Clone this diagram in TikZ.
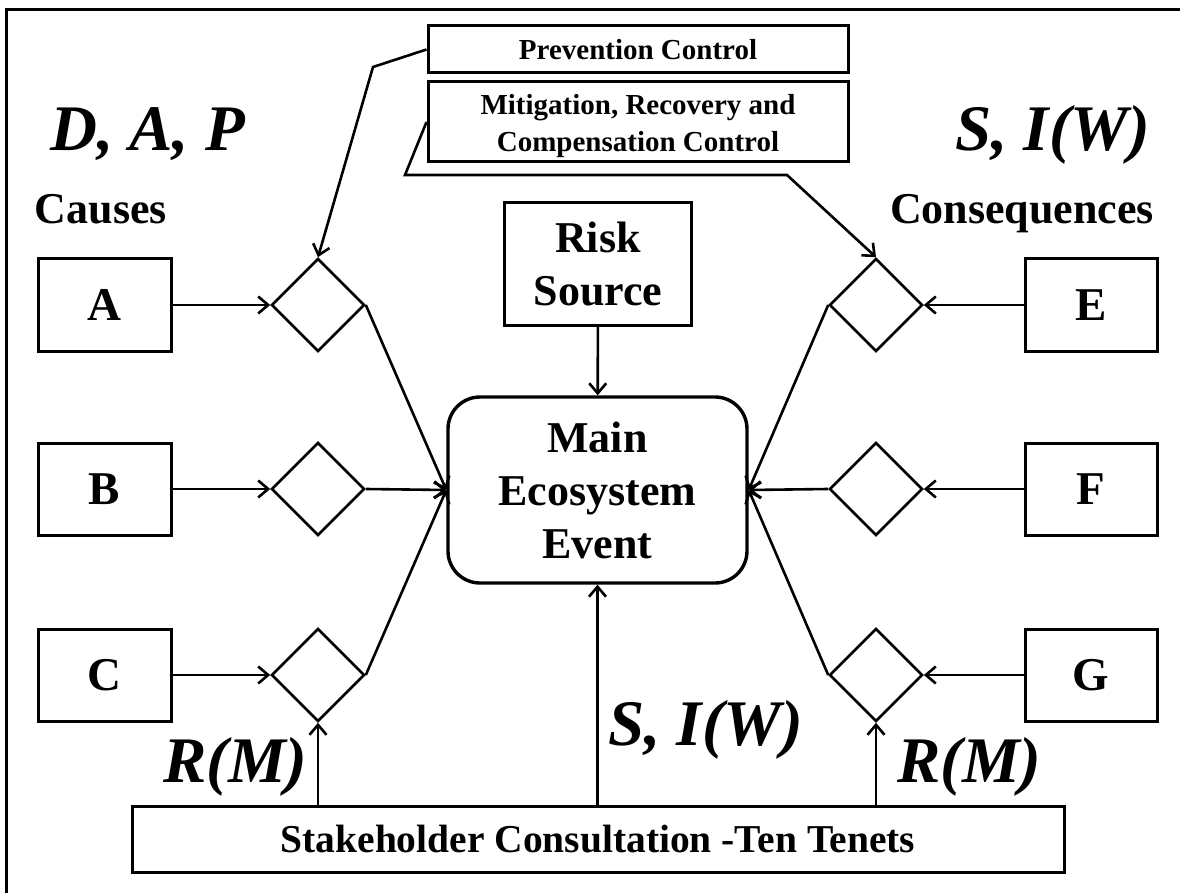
\documentclass[tikz,border=0pt]{standalone}
\usepackage{fontspec}
\setmainfont{Liberation Serif}
\usetikzlibrary{shapes.geometric,arrows.meta}
\begin{document}
\begin{tikzpicture}[x=1pt,y=-1pt,
  lbox/.style={draw,line width=3pt,inner sep=0pt,align=center},
  big/.style={font=\bfseries\fontsize{47}{54}\selectfont},
  mid/.style={font=\bfseries\fontsize{44}{53}\selectfont},
  small/.style={font=\bfseries\fontsize{29}{37}\selectfont},
  ital/.style={font=\bfseries\itshape\fontsize{65}{70}\selectfont,inner sep=0pt},
  dia/.style={draw,diamond,line width=2.6pt,minimum width=93pt,minimum height=93pt,inner sep=0pt},
  conn/.style={line width=2.6pt,-{Straight Barb[length=10pt,width=17pt,line width=2.6pt]}}]
\useasboundingbox (0,0) rectangle (1180,893);
% frame (cropped)
\draw[line width=3pt] (6,893) -- (6,10) -- (1180,10);

% top control boxes
\node[lbox,small,minimum width=420pt,minimum height=47pt] (prev) at (638,49.5) {Prevention Control};
\node[lbox,minimum width=420pt,minimum height=80pt] (mitig) at (638,122) {};
\node[small,align=center,inner sep=0pt] (mitigtxt) at (638,126) {Mitigation, Recovery and\\Compensation Control};

% titles
\node[ital,anchor=base west] (dap) at (50,151) {D, A, P};
\node[mid,inner sep=0pt,anchor=base] (causes) at (101,224) {Causes};
\node[ital,anchor=base west] (siw) at (955,151) {S, I(W)};
\node[mid,inner sep=0pt,anchor=base] (cons) at (1022,224) {Consequences};

% left boxes
\node[lbox,big,minimum width=133pt,minimum height=92pt] (A) at (104.5,305) {A};
\node[lbox,big,minimum width=133pt,minimum height=92pt] (B) at (104.5,489) {B};
\node[lbox,big,minimum width=133pt,minimum height=92pt] (C) at (104.5,675) {C};
% right boxes
\node[lbox,big,minimum width=132pt,minimum height=92pt] (E) at (1091,305) {E};
\node[lbox,big,minimum width=132pt,minimum height=92pt] (F) at (1091,489) {F};
\node[lbox,big,minimum width=132pt,minimum height=92pt] (G) at (1091,675) {G};

% diamonds
\node[dia] (dA) at (318,305) {};
\node[dia] (dB) at (318,489) {};
\node[dia] (dC) at (318,675) {};
\node[dia] (dE) at (876,305) {};
\node[dia] (dF) at (876,489) {};
\node[dia] (dG) at (876,675) {};

% risk source and main event
\node[lbox,mid,minimum width=187pt,minimum height=122pt] (risk) at (598,264) {Risk\\Source};
\node[lbox,mid,line width=3.4pt,rounded corners=32pt,minimum width=299pt,minimum height=186pt] (main) at (597.5,490) {Main\\Ecosystem\\Event};

% stakeholder box
\node[lbox,font=\bfseries\fontsize{39.5}{44}\selectfont,minimum width=932pt,minimum height=66pt] (stake) at (598,839) {Stakeholder Consultation -Ten Tenets};

% bottom labels
\node[ital,anchor=base west] (rml) at (163,782) {R(M)};
\node[ital,anchor=base west] (rmr) at (897,782) {R(M)};
\node[ital,anchor=base west] (siwb) at (608,745) {S, I(W)};

% horizontal arrows box -> diamond
\draw[conn] (A) -- (dA);
\draw[conn] (B) -- (dB);
\draw[conn] (C) -- (dC);
\draw[conn] (E) -- (dE);
\draw[conn] (F) -- (dF);
\draw[conn] (G) -- (dG);

% diamonds -> main
\draw[conn] (dA.east) -- (main.west);
\draw[conn] (dB.east) -- (main.west);
\draw[conn] (dC.east) -- (main.west);
\draw[conn] (dE.west) -- (main.east);
\draw[conn] (dF.west) -- (main.east);
\draw[conn] (dG.west) -- (main.east);

% risk -> main
\draw[conn] (risk) -- (main);

% controls -> diamonds
\coordinate (p1) at (373,67);
\draw[conn] (prev.west) -- (p1) -- (dA.north);
\coordinate (m1) at (405,175);
\coordinate (m2) at (787,175);
\draw[conn] (mitig.west) -- (m1) -- (m2) -- (dE.north);

% stakeholder -> up
\draw[conn] (dC.south |- stake.north) -- (dC.south);
\draw[conn] (main.south |- stake.north) -- (main.south);
\draw[conn] (dG.south |- stake.north) -- (dG.south);
\end{tikzpicture}
\end{document}
